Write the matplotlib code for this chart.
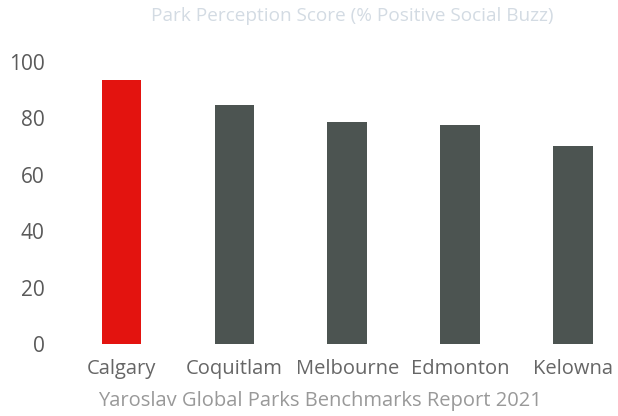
import matplotlib
matplotlib.use("Agg")
import matplotlib.pyplot as plt
import numpy as np

cities = ["Calgary", "Coquitlam", "Melbourne", "Edmonton", "Kelowna"]
scores = [93.6, 84.8, 78.6, 77.5, 70.2]
bar_colors = ["#e3130f", "#4c5451", "#4c5451", "#4c5451", "#4c5451"]
yticks = [0, 20, 40, 60, 80, 100]

plt.rcParams["font.family"] = ["Open Sans", "DejaVu Sans"]

fig = plt.figure(figsize=(6.18, 4.16), dpi=100)
ax = fig.add_axes([0.087, 0.173, 0.913, 0.678])

x = np.arange(len(cities))
ax.bar(x, scores, width=0.35, color=bar_colors)

ax.set_xlim(-0.6, 4.4)
ax.set_ylim(0, 100)
ax.set_xticks(x)
ax.set_xticklabels(cities)
ax.set_yticks(yticks)
ax.tick_params(length=0, labelsize=15, colors="#5a5a5a")
ax.tick_params(axis="x", pad=11, labelsize=14.5, colors="#666666")
ax.tick_params(axis="y", pad=6.5)
for s in ax.spines.values():
    s.set_visible(False)

fig.text(0.57, 0.962, "Park Perception Score (% Positive Social Buzz)",
         ha="center", va="center", fontsize=13.7, color="#d3dbe3")
fig.text(0.518, 0.035, "Yaroslav Global Parks Benchmarks Report 2021",
         ha="center", va="center", fontsize=14.5, color="#999999")

fig.savefig("out.png", dpi=100)
